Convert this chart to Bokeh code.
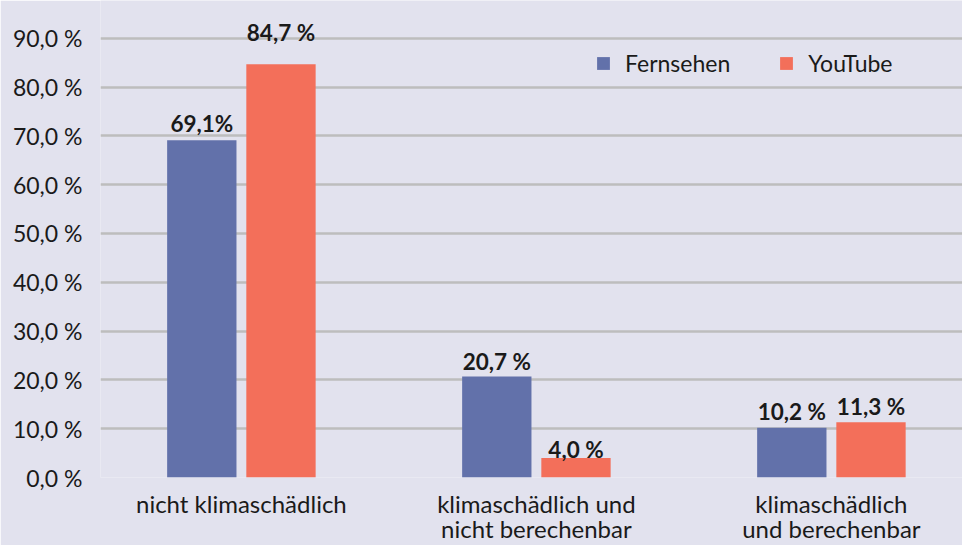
from bokeh.plotting import figure
from bokeh.models import ColumnDataSource, FixedTicker, Legend, LegendItem, Range1d
from bokeh.transform import dodge
from bokeh.core.properties import value
from bokeh.embed import file_html
from bokeh.resources import INLINE

# ---- data ----
categories = ["nicht klimaschädlich",
              "klimaschädlich und\nnicht berechenbar",
              "klimaschädlich\nund berechenbar"]
series_names = ["Fernsehen", "YouTube"]
fernsehen = [69.1, 20.7, 10.2]
youtube = [84.7, 4.0, 11.3]
fernsehen_labels = ["69,1%", "20,7 %", "10,2 %"]
youtube_labels = ["84,7 %", "4,0 %", "11,3 %"]
y_ticks = [0, 10, 20, 30, 40, 50, 60, 70, 80, 90]
y_tick_labels = ["0,0 %", "10,0 %", "20,0 %", "30,0 %", "40,0 %",
                 "50,0 %", "60,0 %", "70,0 %", "80,0 %", "90,0 %"]

# ---- styles ----
BG = "#E2E2EE"
BLUE = "#6271AA"
CORAL = "#F36F5A"
GRID = "#BDBDBD"
TXT = "#1A1A1A"
FONT = "Lato"
fern_label_gap = [16.7, 15.3, 16.0]   # px between bar top and label baseline
yt_label_gap = [31.7, 8.0, 15.7]

idx = list(range(len(categories)))
src_f = ColumnDataSource(dict(x=idx, y=fernsehen, lab=fernsehen_labels,
                              off=[-g for g in fern_label_gap]))
src_y = ColumnDataSource(dict(x=idx, y=youtube, lab=youtube_labels,
                              off=[-g for g in yt_label_gap]))

p = figure(width=962, height=545, output_backend="svg", toolbar_location=None,
           x_range=Range1d(-0.4776, 2.4444), y_range=Range1d(0, 97.74),
           min_border_left=100, min_border_right=0, min_border_top=0,
           min_border_bottom=65, background_fill_color=BG,
           border_fill_color=BG, outline_line_color=None)

OFF = 0.1342
W = 0.235
r_f = p.vbar(x=dodge("x", -OFF), top="y", width=W, source=src_f,
             fill_color=BLUE, line_color=None)
r_y = p.vbar(x=dodge("x", OFF), top="y", width=W, source=src_y,
             fill_color=CORAL, line_color=None)

for src, dx in ((src_f, -OFF), (src_y, OFF)):
    p.text(x=dodge("x", dx), y="y", text="lab", y_offset="off", source=src,
           text_align="center", text_baseline="alphabetic",
           text_font=value(FONT), text_font_style="bold",
           text_font_size="22.5px", text_color=TXT)

# axes
p.xaxis.ticker = FixedTicker(ticks=idx)
p.xaxis.major_label_overrides = {i: c for i, c in zip(idx, categories)}
p.yaxis.ticker = FixedTicker(ticks=y_ticks)
p.yaxis.major_label_overrides = {t: l for t, l in zip(y_ticks, y_tick_labels)}
for ax in (p.xaxis[0], p.yaxis[0]):
    ax.axis_line_color = None
    ax.major_tick_line_color = None
    ax.minor_tick_line_color = None
    ax.major_tick_out = 0
    ax.major_tick_in = 0
    ax.major_label_text_font = FONT
    ax.major_label_text_color = TXT
p.yaxis.major_label_text_font_size = "23px"
p.xaxis.major_label_text_font_size = "24px"
p.yaxis.major_label_standoff = 18
p.xaxis.major_label_standoff = 11
p.xaxis.major_label_text_line_height = 0.87

p.xgrid.grid_line_color = None
p.ygrid.ticker = FixedTicker(ticks=y_ticks)
p.ygrid.grid_line_color = GRID
p.ygrid.grid_line_width = 2.5

legend = Legend(items=[LegendItem(label=series_names[0], renderers=[r_f]),
                       LegendItem(label=series_names[1], renderers=[r_y])],
                orientation="horizontal", location=(495, 400),
                padding=0, margin=0, background_fill_alpha=0,
                border_line_alpha=0, glyph_width=16, glyph_height=16,
                label_standoff=14, spacing=48,
                label_text_font=FONT, label_text_font_size="23px",
                label_text_color=TXT)
p.add_layout(legend)

open("out.html", "w").write(file_html(p, INLINE))
